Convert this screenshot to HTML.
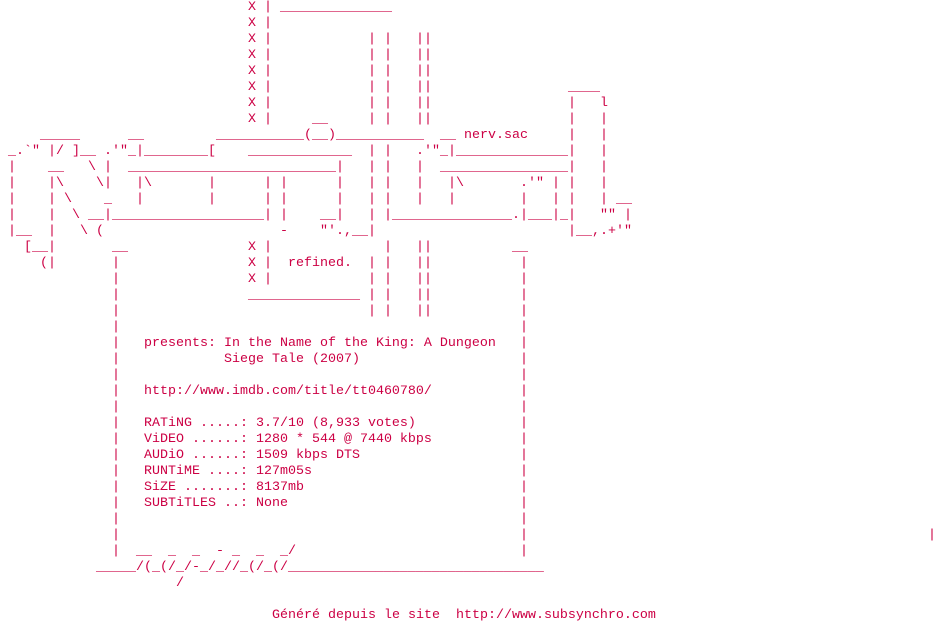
<!DOCTYPE html>
<html><head><meta charset="utf-8"><style>
html,body{margin:0;padding:0;background:#fff;width:936px;height:624px;overflow:hidden}
body{position:relative;font-family:"Liberation Mono",monospace;font-size:13.33px;line-height:16px;color:#cc0044}
i{position:absolute;font-style:normal;white-space:pre}
</style></head><body>
<i style="left:248px;top:0px">X | ______________</i>
<i style="left:248px;top:16px">X |</i>
<i style="left:248px;top:32px">X |</i><i style="left:368px;top:32px">| |</i><i style="left:416px;top:32px">||</i>
<i style="left:248px;top:48px">X |</i><i style="left:368px;top:48px">| |</i><i style="left:416px;top:48px">||</i>
<i style="left:248px;top:64px">X |</i><i style="left:368px;top:64px">| |</i><i style="left:416px;top:64px">||</i>
<i style="left:248px;top:80px">X |</i><i style="left:368px;top:80px">| |</i><i style="left:416px;top:80px">||</i><i style="left:568px;top:80px">____</i>
<i style="left:248px;top:96px">X |</i><i style="left:368px;top:96px">| |</i><i style="left:416px;top:96px">||</i><i style="left:568px;top:96px">|   l</i>
<i style="left:248px;top:112px">X |</i><i style="left:312px;top:112px">__</i><i style="left:368px;top:112px">| |</i><i style="left:416px;top:112px">||</i><i style="left:568px;top:112px">|   |</i>
<i style="left:40px;top:128px">_____</i><i style="left:128px;top:128px">__</i><i style="left:216px;top:128px">___________(__)___________</i><i style="left:440px;top:128px">__ nerv.sac</i><i style="left:568px;top:128px">|   |</i>
<i style="left:8px;top:144px">_.`" |/ ]__ .'"_|________[</i><i style="left:248px;top:144px">_____________</i><i style="left:368px;top:144px">| |</i><i style="left:416px;top:144px">.'"_|______________|   |</i>
<i style="left:8px;top:160px">|</i><i style="left:48px;top:160px">__</i><i style="left:88px;top:160px">\ |</i><i style="left:128px;top:160px">__________________________|</i><i style="left:368px;top:160px">| |</i><i style="left:416px;top:160px">|</i><i style="left:440px;top:160px">________________|   |</i>
<i style="left:8px;top:176px">|</i><i style="left:48px;top:176px">|\</i><i style="left:96px;top:176px">\|</i><i style="left:136px;top:176px">|\</i><i style="left:208px;top:176px">|</i><i style="left:264px;top:176px">| |</i><i style="left:336px;top:176px">|</i><i style="left:368px;top:176px">| |</i><i style="left:416px;top:176px">|</i><i style="left:448px;top:176px">|\</i><i style="left:520px;top:176px">.'"</i><i style="left:552px;top:176px">| |   |</i>
<i style="left:8px;top:192px">|</i><i style="left:48px;top:192px">|</i><i style="left:64px;top:192px">\</i><i style="left:104px;top:192px">_</i><i style="left:136px;top:192px">|</i><i style="left:208px;top:192px">|</i><i style="left:264px;top:192px">| |</i><i style="left:336px;top:192px">|</i><i style="left:368px;top:192px">| |</i><i style="left:416px;top:192px">|</i><i style="left:448px;top:192px">|</i><i style="left:520px;top:192px">|</i><i style="left:552px;top:192px">| |   |</i><i style="left:616px;top:192px">__</i>
<i style="left:8px;top:208px">|</i><i style="left:48px;top:208px">|</i><i style="left:72px;top:208px">\ __|___________________|</i><i style="left:280px;top:208px">|</i><i style="left:320px;top:208px">__|</i><i style="left:368px;top:208px">| |_______________.|___|_|</i><i style="left:600px;top:208px">"" |</i>
<i style="left:8px;top:224px">|__</i><i style="left:48px;top:224px">|</i><i style="left:80px;top:224px">\ (</i><i style="left:280px;top:224px">-</i><i style="left:320px;top:224px">"'.,__|</i><i style="left:568px;top:224px">|__,.+'"</i>
<i style="left:24px;top:240px">[__|</i><i style="left:112px;top:240px">__</i><i style="left:248px;top:240px">X |</i><i style="left:384px;top:240px">|</i><i style="left:416px;top:240px">||</i><i style="left:512px;top:240px">__</i>
<i style="left:40px;top:256px">(|</i><i style="left:112px;top:256px">|</i><i style="left:248px;top:256px">X |  refined.</i><i style="left:368px;top:256px">| |</i><i style="left:416px;top:256px">||</i><i style="left:520px;top:256px">|</i>
<i style="left:112px;top:272px">|</i><i style="left:248px;top:272px">X |</i><i style="left:368px;top:272px">| |</i><i style="left:416px;top:272px">||</i><i style="left:520px;top:272px">|</i>
<i style="left:112px;top:288px">|</i><i style="left:248px;top:288px">______________</i><i style="left:368px;top:288px">| |</i><i style="left:416px;top:288px">||</i><i style="left:520px;top:288px">|</i>
<i style="left:112px;top:304px">|</i><i style="left:368px;top:304px">| |</i><i style="left:416px;top:304px">||</i><i style="left:520px;top:304px">|</i>
<i style="left:112px;top:320px">|</i><i style="left:520px;top:320px">|</i>
<i style="left:112px;top:336px">|   presents: In the Name of the King: A Dungeon</i><i style="left:520px;top:336px">|</i>
<i style="left:112px;top:352px">|</i><i style="left:224px;top:352px">Siege Tale (2007)</i><i style="left:520px;top:352px">|</i>
<i style="left:112px;top:368px">|</i><i style="left:520px;top:368px">|</i>
<i style="left:112px;top:384px">|   http://www.imdb.com/title/tt0460780/</i><i style="left:520px;top:384px">|</i>
<i style="left:112px;top:400px">|</i><i style="left:520px;top:400px">|</i>
<i style="left:112px;top:416px">|   RATiNG .....: 3.7/10 (8,933 votes)</i><i style="left:520px;top:416px">|</i>
<i style="left:112px;top:432px">|   ViDEO ......: 1280 * 544 @ 7440 kbps</i><i style="left:520px;top:432px">|</i>
<i style="left:112px;top:448px">|   AUDiO ......: 1509 kbps DTS</i><i style="left:520px;top:448px">|</i>
<i style="left:112px;top:464px">|   RUNTiME ....: 127m05s</i><i style="left:520px;top:464px">|</i>
<i style="left:112px;top:480px">|   SiZE .......: 8137mb</i><i style="left:520px;top:480px">|</i>
<i style="left:112px;top:496px">|   SUBTiTLES ..: None</i><i style="left:520px;top:496px">|</i>
<i style="left:112px;top:512px">|</i><i style="left:520px;top:512px">|</i>
<i style="left:112px;top:528px">|</i><i style="left:520px;top:528px">|</i>
<i style="left:112px;top:544px">|  __  _  _  - _  _  _/</i><i style="left:520px;top:544px">|</i><i style="left:928px;top:528px">|</i>
<i style="left:96px;top:560px">_____/(_(/_/-_/_//_(/_(/________________________________</i>
<i style="left:176px;top:576px">/</i>
<i style="left:272px;top:608px">Généré depuis le site  http://www.subsynchro.com</i>
</body></html>
